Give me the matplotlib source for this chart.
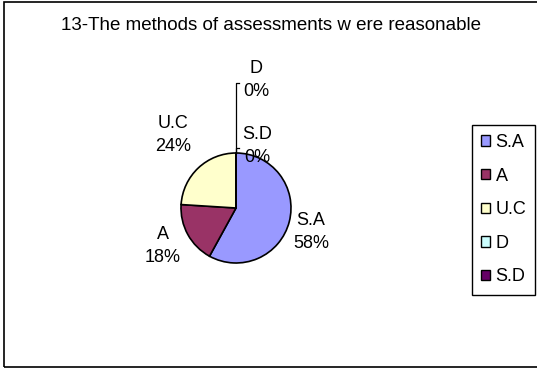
import matplotlib
matplotlib.use('Agg')
import matplotlib.pyplot as plt
from matplotlib.patches import Patch, Rectangle

plt.rcParams['font.family'] = ['Liberation Sans', 'DejaVu Sans']

#%%
title = '13-The methods of assessments w ere reasonable'
categories = ['S.A', 'A', 'U.C', 'D', 'S.D']
percents = [58, 18, 24, 0, 0]
colors = ['#9999FF', '#993366', '#FFFFCC', '#CCFFFF', '#660066']

W, H = 537, 368
# label centres in pixels (x, y from top)
label_pos = {'S.A': (311, 232), 'A': (163, 246), 'U.C': (173, 135),
             'D': (256, 80), 'S.D': (257, 146)}

#%%
fig = plt.figure(figsize=(W / 100, H / 100), dpi=100)
ax = fig.add_axes([0, 0, 1, 1])
ax.set_xlim(0, W)
ax.set_ylim(0, H)
ax.set_aspect('equal')
ax.axis('off')

# outer chart frame
ax.add_patch(Rectangle((4, 1), W + 5, H - 2.5, fill=False, ec='black', lw=1.2))

cx, cy, r = 236, H - 208, 55
ax.pie(percents, colors=colors, startangle=90, counterclock=False,
       center=(cx, cy), radius=r,
       wedgeprops=dict(edgecolor='black', linewidth=1.2))
ax.set_xlim(0, W)
ax.set_ylim(0, H)

for cat, pct in zip(categories, percents):
    x, y = label_pos[cat]
    ax.text(x, H - y, f'{cat}\n{pct}%', ha='center', va='center',
            fontsize=13, linespacing=1.45)

# leader lines for the zero slices
top = cy + r
for y_end in [H - 83, H - 148]:
    ax.plot([cx, cx, cx + 2.5], [top, y_end, y_end], color='black', lw=0.9)

ax.text(271, H - 25, title, ha='center', va='center', fontsize=13.5)

handles = [Patch(facecolor=c, edgecolor='black', linewidth=1) for c in colors]
leg = fig.legend(handles, categories, loc='upper left',
                 bbox_to_anchor=(472 / W, 1 - 125 / H), fontsize=13,
                 handlelength=0.5, handleheight=0.5, handletextpad=0.3,
                 labelspacing=0.92, borderpad=0.5, borderaxespad=0,
                 fancybox=False, edgecolor='black', framealpha=1)
leg.get_frame().set_linewidth(1)

plt.savefig('out.png', dpi=100)
